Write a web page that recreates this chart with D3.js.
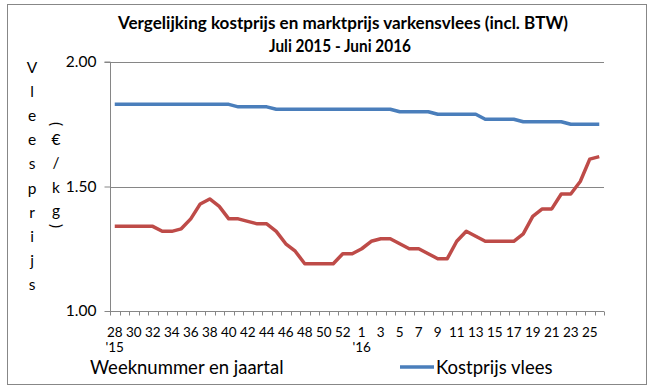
<!DOCTYPE html>
<html><head><meta charset="utf-8">
<script src="https://cdnjs.cloudflare.com/ajax/libs/d3/7.8.5/d3.min.js"></script>
<style>body{margin:0;background:#fff}svg{display:block}text{font-family:Lato,"Open Sans",sans-serif;fill:#000}</style>
</head><body><svg id="c" width="657" height="392"></svg>
<script>
const weeks = [28,29,30,31,32,33,34,35,36,37,38,39,40,41,42,43,44,45,46,47,48,49,50,51,52,53,1,2,3,4,5,6,7,8,9,10,11,12,13,14,15,16,17,18,19,20,21,22,23,24,25,26];
const years = ["'15","","","","","","","","","","","","","","","","","","","","","","","","","","'16","","","","","","","","","","","","","","","","","","","","","","","","",""];
const kostprijs = [1.83,1.83,1.83,1.83,1.83,1.83,1.83,1.83,1.83,1.83,1.83,1.83,1.83,1.82,1.82,1.82,1.82,1.81,1.81,1.81,1.81,1.81,1.81,1.81,1.81,1.81,1.81,1.81,1.81,1.81,1.80,1.80,1.80,1.80,1.79,1.79,1.79,1.79,1.79,1.77,1.77,1.77,1.77,1.76,1.76,1.76,1.76,1.76,1.75,1.75,1.75,1.75];
const marktprijs = [1.34,1.34,1.34,1.34,1.34,1.32,1.32,1.33,1.37,1.43,1.45,1.42,1.37,1.37,1.36,1.35,1.35,1.32,1.27,1.24,1.19,1.19,1.19,1.19,1.23,1.23,1.25,1.28,1.29,1.29,1.27,1.25,1.25,1.23,1.21,1.21,1.28,1.32,1.30,1.28,1.28,1.28,1.28,1.31,1.38,1.41,1.41,1.47,1.47,1.52,1.61,1.62];
const yTicks = [1.00,1.50,2.00];
const titleLines = ["Vergelijking kostprijs en marktprijs varkensvlees (incl. BTW)","Juli 2015 - Juni 2016"];
const yTitle1 = ["V","l","e","e","s","p","r","i","j","s"];
const yTitle2 = ["(","€","/","k","g",")"];

const svg = d3.select("#c");
svg.append("rect").attr("x",7.5).attr("y",4.5).attr("width",639).attr("height",380).attr("fill","#fff").attr("stroke","#878787").attr("stroke-width",1);

const L=110, R=604, T=62, B=311;
const x = d3.scaleBand().domain(d3.range(weeks.length)).range([L,R]).paddingInner(0).paddingOuter(0);
const y = d3.scaleLinear().domain([1,2]).range([B,T]);
const cx = i => x(i)+x.bandwidth()/2;

// gridlines
svg.append("g").selectAll("line").data(yTicks.filter(d=>d>1)).join("line")
  .attr("x1",L).attr("x2",R).attr("y1",d=>Math.round(y(d))+0.5).attr("y2",d=>Math.round(y(d))+0.5)
  .attr("stroke","#868686").attr("stroke-width",1);

// y axis
const ya = svg.append("g").attr("transform",`translate(${L+0.5},0)`)
  .call(d3.axisLeft(y).tickValues(yTicks).tickFormat(d3.format(".2f")).tickSize(6).tickPadding(8));
ya.select(".domain").attr("stroke","#868686").attr("d",`M-6,${T}H0V${B}`);
ya.selectAll(".tick line").attr("stroke","#868686");
ya.selectAll("text").attr("font-size",15.5).attr("font-family","Lato,sans-serif").attr("fill","#000");

// x axis
const xa = svg.append("g").attr("transform",`translate(0,${B+0.5})`);
xa.append("line").attr("x1",L).attr("x2",R).attr("stroke","#868686");
xa.selectAll("line.t").data(d3.range(weeks.length+1)).join("line").attr("class","t")
  .attr("x1",i=>Math.round(L+i*x.bandwidth())+0.5).attr("x2",i=>Math.round(L+i*x.bandwidth())+0.5)
  .attr("y1",0).attr("y2",4).attr("stroke","#868686");
const lab = d3.range(weeks.length).filter(i=>i%2===0);
svg.append("g").selectAll("text").data(lab).join("text")
  .attr("x",cx).attr("y",337).attr("text-anchor","middle").attr("font-size",13.5).text(i=>weeks[i]);
svg.append("g").selectAll("text").data(d3.range(weeks.length).filter(i=>years[i])).join("text")
  .attr("x",cx).attr("y",352).attr("text-anchor","middle").attr("font-size",13.5).text(i=>years[i]);

// lines
const line = d3.line().x((d,i)=>cx(i)).y(d=>y(d));
svg.append("path").datum(kostprijs).attr("d",line).attr("fill","none").attr("stroke","#4A7EBB").attr("stroke-width",3.5).attr("stroke-linejoin","round");
svg.append("path").datum(marktprijs).attr("d",line).attr("fill","none").attr("stroke","#BE4B48").attr("stroke-width",3.5).attr("stroke-linejoin","round");

// title
const tPos = [{cx:343,w:450,y:29},{cx:340,w:142,y:52}];
svg.append("g").selectAll("text").data(titleLines).join("text")
  .attr("x",(d,i)=>tPos[i].cx).attr("y",(d,i)=>tPos[i].y).attr("text-anchor","middle")
  .attr("font-size",16.5).attr("font-weight","bold")
  .attr("textLength",(d,i)=>tPos[i].w).attr("lengthAdjust","spacingAndGlyphs").text(d=>d);

// y title
svg.append("g").selectAll("text").data(yTitle1).join("text")
  .attr("x",32).attr("y",(d,i)=>73+i*24.1).attr("text-anchor","middle").attr("font-size",15.5).text(d=>d);
const yt2 = svg.append("g");
yTitle2.forEach((c,i)=>{
  const yy = [124,145,168,193,216,226][i];
  if(c==="("||c===")"){
    yt2.append("text").attr("transform",`translate(56,${yy}) rotate(90)`).attr("text-anchor","middle").attr("dy","0.35em").attr("font-size",15.5).text(c);
  } else {
    yt2.append("text").attr("x",56).attr("y",yy).attr("text-anchor","middle").attr("font-size",15.5).text(c);
  }
});

// axis title
svg.append("text").attr("x",90).attr("y",374).attr("font-size",18.5).text("Weeknummer en jaartal");
// legend
svg.append("line").attr("x1",400).attr("x2",434).attr("y1",367).attr("y2",367).attr("stroke","#4A7EBB").attr("stroke-width",3.5);
svg.append("text").attr("x",436).attr("y",374).attr("font-size",18.5).text("Kostprijs vlees");
</script></body></html>
